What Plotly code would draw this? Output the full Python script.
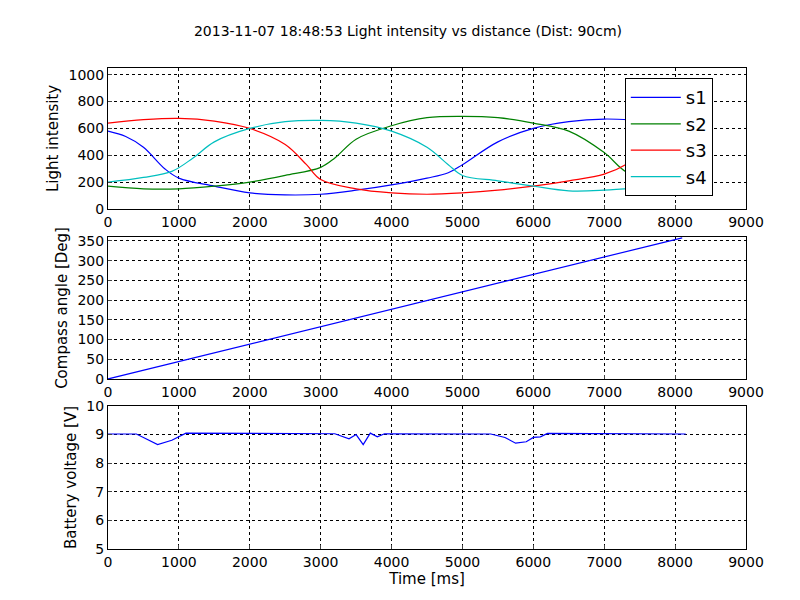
import plotly.graph_objects as go

# light intensity samples
t_s1 = [0, 250, 500, 800, 1000, 1500, 2000, 2500, 3000, 3500, 4000, 4500, 4800, 5000, 5500, 6000, 6500, 7000, 7500, 8100]
s1 = [580, 540, 460, 300, 230, 170, 120, 105, 110, 140, 180, 230, 270, 330, 500, 600, 650, 670, 660, 640]
t_s2 = [0, 500, 1000, 1500, 2000, 2500, 3000, 3200, 3500, 4000, 4500, 5000, 5500, 6000, 6500, 7000, 7300, 7600, 8100]
s2 = [170, 150, 150, 170, 200, 250, 310, 380, 520, 620, 680, 690, 680, 640, 580, 420, 280, 230, 200]
t_s3 = [0, 500, 1000, 1500, 2000, 2500, 2800, 3000, 3500, 4000, 4500, 5000, 5500, 6000, 6500, 7000, 7300, 7700, 8100]
s3 = [640, 665, 675, 655, 600, 480, 330, 220, 150, 120, 110, 120, 140, 170, 210, 260, 330, 500, 580]
t_s4 = [0, 500, 900, 1200, 1500, 2000, 2500, 3000, 3500, 4000, 4500, 4800, 5000, 5500, 6000, 6500, 7000, 7500, 8100]
s4 = [200, 235, 280, 380, 500, 600, 650, 660, 640, 580, 460, 330, 250, 210, 170, 135, 140, 160, 190]

t_compass = [0, 8100]
compass = [0, 358]

t_batt = [0, 400, 500, 700, 900, 1100, 3200, 3400, 3500, 3600, 3700, 3800, 3900, 5400, 5600, 5750, 5900, 6000, 6100, 6200, 8150]
batt = [9.02, 9.02, 8.9, 8.65, 8.8, 9.05, 9.03, 8.85, 9.0, 8.65, 9.05, 8.92, 9.03, 9.02, 8.9, 8.7, 8.75, 8.9, 8.92, 9.04, 9.02]

fig = go.Figure()
for t, s, name, col in [(t_s1, s1, "s1", "#0000ff"), (t_s2, s2, "s2", "#008000"),
                        (t_s3, s3, "s3", "#ff0000"), (t_s4, s4, "s4", "#00bfbf")]:
    fig.add_trace(go.Scatter(x=t, y=s, name=name, mode="lines", line=dict(color=col, width=1.2, shape="spline")))
fig.add_trace(go.Scatter(x=t_compass, y=compass, mode="lines", showlegend=False,
                         line=dict(color="#0000ff", width=1.2), xaxis="x2", yaxis="y2"))
fig.add_trace(go.Scatter(x=t_batt, y=batt, mode="lines", showlegend=False,
                         line=dict(color="#0000ff", width=1.2), xaxis="x3", yaxis="y3"))

ax = dict(domain=[0.125, 0.9225], range=[0, 9000], dtick=1000, showline=True, mirror=True,
          linecolor="black", linewidth=1, ticks="inside", ticklen=4, showgrid=True,
          gridcolor="black", griddash="dot", gridwidth=0.5, zeroline=False, tickfont=dict(size=14),
          automargin=False)
ay = dict(showline=True, mirror=True, linecolor="black", linewidth=1, ticks="inside", ticklen=4,
          showgrid=True, gridcolor="black", griddash="dot", gridwidth=0.5, zeroline=False,
          tickfont=dict(size=14), title_font=dict(size=15), title_standoff=6, automargin=False)

fig.update_layout(
    width=800, height=600, margin=dict(l=0, r=0, t=0, b=0, autoexpand=False),
    plot_bgcolor="white", paper_bgcolor="white",
    font=dict(family="DejaVu Sans", color="black"),
    title=dict(text="2013-11-07 18:48:53 Light intensity vs distance (Dist: 90cm)",
               x=0.5, y=0.97, xanchor="center", font=dict(size=14), automargin=False),
    xaxis=dict(ax, anchor="y"),
    yaxis=dict(ay, domain=[0.665, 0.9], range=[0, 1050], dtick=200, title_text="Light intensity"),
    xaxis2=dict(ax, anchor="y2"),
    yaxis2=dict(ay, domain=[0.3817, 0.6183], range=[0, 360], dtick=50, title_text="Compass angle [Deg]"),
    xaxis3=dict(ax, anchor="y3", title_text="Time [ms]", title_font=dict(size=15), title_standoff=4),
    yaxis3=dict(ay, domain=[0.0983, 0.3367], range=[5, 10], dtick=1, title_text="Battery voltage [V]"),
    legend=dict(x=0.771, y=0.883, xanchor="left", yanchor="top", bgcolor="white",
                bordercolor="black", borderwidth=1, font=dict(size=18), tracegroupgap=0,
                itemwidth=50),
)

fig.write_html("out.html")
